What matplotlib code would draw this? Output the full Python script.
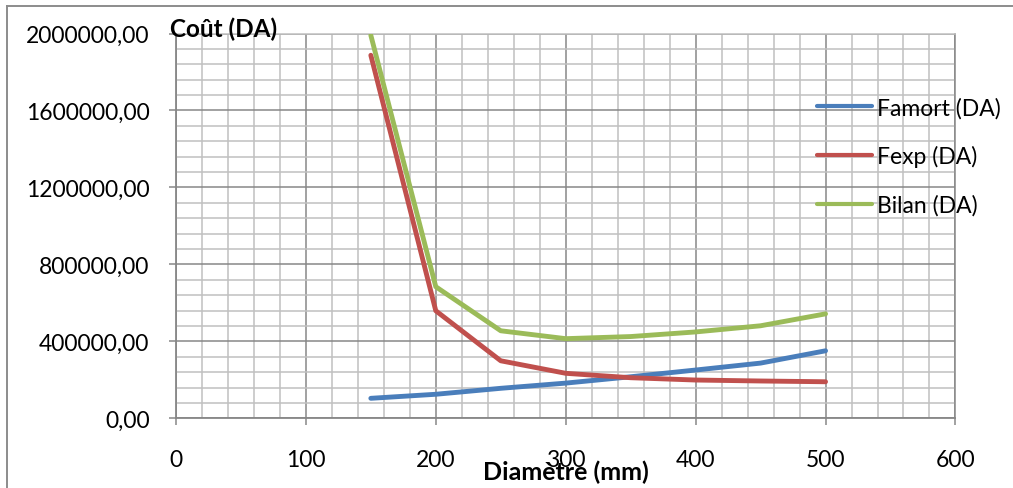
import matplotlib
matplotlib.use("Agg")
import matplotlib.pyplot as plt
from matplotlib.ticker import MultipleLocator, FuncFormatter
from matplotlib.lines import Line2D

# Diameters (mm) and annual costs (DA)
diametre = [150, 200, 250, 300, 350, 400, 450, 500]
famort = [104000, 125000, 156000, 183000, 216000, 251000, 287000, 351000]
fexp = [1887000, 559000, 299000, 234000, 211000, 199000, 194000, 190000]
bilan = [1991000, 684000, 455000, 414000, 425000, 449000, 481000, 543000]

series_labels = ["Famort (DA)", "Fexp (DA)", "Bilan (DA)"]
series_colors = ["#4A7EBB", "#C0504D", "#9BBB59"]

x_label = "Diamètre (mm)"
y_label = "Coût (DA)"

FONT = "Lato"
MAJOR_GRID = "#878787"
MINOR_GRID = "#C0C0C0"

fig = plt.figure(figsize=(10.13, 4.89), dpi=100)
ax = fig.add_axes([0.1737, 0.1425, 0.9432 - 0.1737, 0.9294 - 0.1425])

for values, label, color in zip([famort, fexp, bilan], series_labels, series_colors):
    ax.plot(diametre, values, color=color, lw=3.5, label=label,
            solid_capstyle="round", solid_joinstyle="round", zorder=3)

ax.set_xlim(0, 600)
ax.set_ylim(0, 2000000)
ax.xaxis.set_major_locator(MultipleLocator(100))
ax.xaxis.set_minor_locator(MultipleLocator(20))
ax.yaxis.set_major_locator(MultipleLocator(400000))
ax.yaxis.set_minor_locator(MultipleLocator(80000))
ax.yaxis.set_major_formatter(FuncFormatter(lambda v, p: f"{v:.2f}".replace(".", ",")))
ax.xaxis.set_major_formatter(FuncFormatter(lambda v, p: f"{v:.0f}"))

ax.grid(which="minor", color=MINOR_GRID, lw=1.1, zorder=0)
ax.grid(which="major", color=MAJOR_GRID, lw=1.1, zorder=1)
ax.set_axisbelow(True)

for side in ("left", "bottom"):
    ax.spines[side].set_color(MAJOR_GRID)
    ax.spines[side].set_linewidth(1.3)
ax.spines["right"].set_color(MAJOR_GRID)
ax.spines["right"].set_linewidth(1.1)
ax.spines["top"].set_color(MINOR_GRID)
ax.spines["top"].set_linewidth(1.1)

ax.tick_params(which="major", direction="out", length=5, width=1.1, color=MAJOR_GRID,
               labelsize=16.5, labelcolor="black")
ax.tick_params(axis="x", which="major", pad=17)
ax.tick_params(axis="y", which="major", pad=14)
ax.tick_params(which="minor", length=0)
for lab in ax.get_xticklabels() + ax.get_yticklabels():
    lab.set_fontfamily(FONT)

fig.text(0.168, 0.924, y_label, fontfamily=FONT, fontweight="bold", fontsize=17.5,
         ha="left", va="baseline")
fig.text(0.5585, 0.0184, x_label, fontfamily=FONT, fontweight="bold", fontsize=18,
         ha="center", va="baseline")

handles = [Line2D([], [], color=c, lw=3.0, solid_capstyle="round") for c in series_colors]
fig.legend(handles, series_labels, loc="upper left", bbox_to_anchor=(0.807, 0.80),
           frameon=False, prop={"family": FONT, "size": 16.5},
           handlelength=2.4, handletextpad=0.2, labelspacing=1.17, borderpad=0, borderaxespad=0)

# Outer chart frame
fig.add_artist(Line2D([7 / 1013, 1], [1 - 7 / 489, 1 - 7 / 489], transform=fig.transFigure,
                      color="#8C8C8C", lw=1.4))
fig.add_artist(Line2D([7 / 1013, 7 / 1013], [0, 1 - 7 / 489], transform=fig.transFigure,
                      color="#8C8C8C", lw=1.4))

fig.savefig("out.png", dpi=100)
